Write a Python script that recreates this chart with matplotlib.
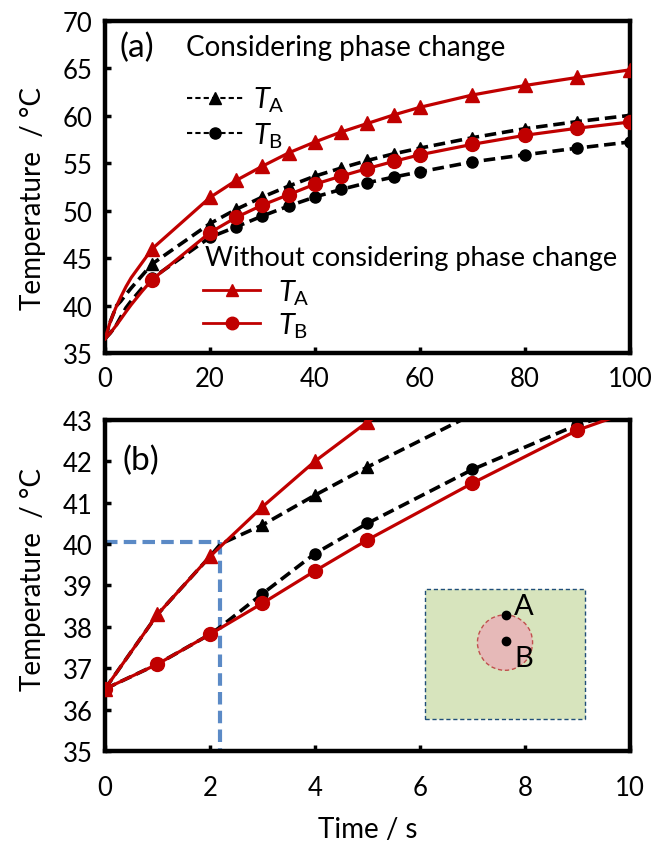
import numpy as np
import matplotlib
matplotlib.use("Agg")
import matplotlib.pyplot as plt
from matplotlib.lines import Line2D
from matplotlib.patches import Rectangle, Ellipse

plt.rcParams['font.family'] = ['Lato', 'DejaVu Sans']
plt.rcParams['mathtext.fontset'] = 'custom'
plt.rcParams['mathtext.rm'] = 'Lato'
plt.rcParams['mathtext.it'] = 'Lato:italic'

# temperature histories (s, degC)
time_wo_A = [0, 1, 2, 3, 4, 5, 9, 20, 25, 30, 35, 40, 45, 50, 55, 60, 70, 80, 90, 100]
temp_wo_A = [36.5, 38.3, 39.7, 40.9, 42.0, 42.95, 46.0, 51.4, 53.2, 54.7, 56.1, 57.25,
             58.3, 59.2, 60.1, 60.9, 62.2, 63.2, 64.05, 64.85]

time_wo_B = [0, 1, 2, 3, 4, 5, 7, 9, 20, 25, 30, 35, 40, 45, 50, 55, 60, 70, 80, 90, 100]
temp_wo_B = [36.5, 37.1, 37.82, 38.57, 39.35, 40.1, 41.47, 42.75, 47.7, 49.3, 50.6, 51.7,
             52.8, 53.65, 54.45, 55.2, 55.9, 57.0, 57.95, 58.7, 59.35]

time_ph_A = [0, 1, 2, 2.2, 3, 4, 5, 9, 20, 25, 30, 35, 40, 45, 50, 55, 60, 70, 80, 90, 100]
temp_ph_A = [36.5, 38.3, 39.7, 40.0, 40.46, 41.18, 41.86, 44.4, 48.65, 50.15, 51.45, 52.6,
             53.65, 54.5, 55.3, 56.0, 56.6, 57.7, 58.65, 59.4, 60.05]

time_ph_B = [0, 1, 2, 2.2, 3, 4, 5, 7, 9, 20, 25, 30, 35, 40, 45, 50, 55, 60, 70, 80, 90, 100]
temp_ph_B = [36.5, 37.1, 37.82, 38.0, 38.8, 39.77, 40.5, 41.8, 42.88, 47.2, 48.3, 49.45,
             50.5, 51.45, 52.25, 52.95, 53.55, 54.1, 55.15, 55.9, 56.6, 57.25]

# melting onset at point A
t_melt = 2.2
T_melt = 40.05

RED = '#c00000'
BLUE = '#5b8ac6'
FS = 18.5


def draw_series(ax, t, T, color, marker, ms, dashed, mask):
    kw = dict(color=color, lw=2.6 if dashed else 2.3, marker=marker, ms=ms,
              markevery=list(mask))
    if dashed:
        kw['dashes'] = (3.2, 1.6)
        kw['zorder'] = 2
    else:
        kw['zorder'] = 3
    ax.plot(t, T, **kw)


def style_axes(ax, xpad):
    for s in ax.spines.values():
        s.set_linewidth(3.2)
    ax.tick_params(direction='in', length=4, width=2.5, labelsize=FS,
                   top=False, right=False)
    ax.tick_params(axis='y', pad=9)
    ax.tick_params(axis='x', pad=xpad)


fig = plt.figure(figsize=(6.62, 8.45), dpi=100)
ax1 = fig.add_axes([0.1586, 0.581, 0.793, 0.393])
ax2 = fig.add_axes([0.1586, 0.110, 0.793, 0.392])

# (a) full 100 s
for t, T, c, m, ms, d in [(time_ph_A, temp_ph_A, 'k', '^', 8, True),
                          (time_ph_B, temp_ph_B, 'k', 'o', 8, True),
                          (time_wo_A, temp_wo_A, RED, '^', 10, False),
                          (time_wo_B, temp_wo_B, RED, 'o', 10, False)]:
    draw_series(ax1, t, T, c, m, ms, d, np.asarray(t) >= 9)

ax1.set_xlim(0, 100)
ax1.set_ylim(35, 70)
ax1.set_xticks(np.arange(0, 101, 20))
ax1.set_yticks(np.arange(35, 71, 5))
style_axes(ax1, 9)
ax1.set_ylabel('Temperature  / °C', fontsize=20)
ax1.yaxis.set_label_coords(-0.112, 0.467)

ax1.text(0.028, 0.922, '(a)', transform=ax1.transAxes, fontsize=24, va='center')
ax1.text(0.154, 0.922, 'Considering phase change', transform=ax1.transAxes,
         fontsize=20, va='center')
ax1.text(0.19, 0.289, 'Without considering phase change', transform=ax1.transAxes,
         fontsize=19.5, va='center')

h_ph = [Line2D([], [], color='k', lw=1.5, ls=(0, (2.5, 1.5)), marker='^', ms=8),
        Line2D([], [], color='k', lw=1.5, ls=(0, (2.5, 1.5)), marker='o', ms=8)]
h_wo = [Line2D([], [], color=RED, lw=2, marker='^', ms=9),
        Line2D([], [], color=RED, lw=2, marker='o', ms=9)]
labels = [r'$T_{\mathrm{A}}$', r'$T_{\mathrm{B}}$']
leg1 = ax1.legend(h_ph, labels, loc='upper left', bbox_to_anchor=(0.156, 0.808),
                  frameon=False, fontsize=21, handlelength=1.92, handletextpad=0.35,
                  labelspacing=0.22, borderpad=0, borderaxespad=0)
ax1.add_artist(leg1)
ax1.legend(h_wo, labels, loc='upper left', bbox_to_anchor=(0.187, 0.229),
           frameon=False, fontsize=21, handlelength=1.95, handletextpad=0.6,
           labelspacing=0.14, borderpad=0, borderaxespad=0)

# (b) first 10 s
for t, T, c, m, ms, d in [(time_ph_A, temp_ph_A, 'k', '^', 8, True),
                          (time_ph_B, temp_ph_B, 'k', 'o', 8, True),
                          (time_wo_A, temp_wo_A, RED, '^', 10, False),
                          (time_wo_B, temp_wo_B, RED, 'o', 10, False)]:
    ta = np.asarray(t)
    mask = (ta <= 9) & (ta == np.round(ta))
    if d:
        mask &= ta >= 3
    draw_series(ax2, t, T, c, m, ms, d, mask)

ax2.plot([0, t_melt], [T_melt, T_melt], color=BLUE, lw=3, dashes=(3, 1.5), zorder=1)
ax2.plot([t_melt, t_melt], [T_melt, 35], color=BLUE, lw=3, dashes=(3, 1.5), zorder=1)

# sketch of the domain with points A and B
ax2.add_patch(Rectangle((6.09, 35.78), 3.06, 3.13, fc='#d7e4bd', ec='#1f4e79',
                        lw=1, ls=(0, (3, 2)), zorder=0.5))
ax2.add_patch(Ellipse((7.62, 37.62), 1.05, 1.34, fc='#e6b9b8', ec='#c0504d',
                      lw=1, ls=(0, (3, 2)), zorder=0.6))
ax2.plot([7.64, 7.64], [38.29, 37.65], 'o', color='k', ms=6, zorder=0.7)
ax2.text(7.97, 38.5, 'A', fontsize=21, ha='center', va='center')
ax2.text(7.97, 37.25, 'B', fontsize=21, ha='center', va='center')

ax2.text(0.034, 0.88, '(b)', transform=ax2.transAxes, fontsize=24, va='center')

ax2.set_xlim(0, 10)
ax2.set_ylim(35, 43)
ax2.set_xticks(np.arange(0, 11, 2))
ax2.set_yticks(np.arange(35, 44, 1))
style_axes(ax2, 17)
ax2.set_xlabel('Time / s', fontsize=20, labelpad=12)
ax2.set_ylabel('Temperature  / °C', fontsize=20)
ax2.yaxis.set_label_coords(-0.112, 0.52)

fig.savefig('out.png', dpi=100)
